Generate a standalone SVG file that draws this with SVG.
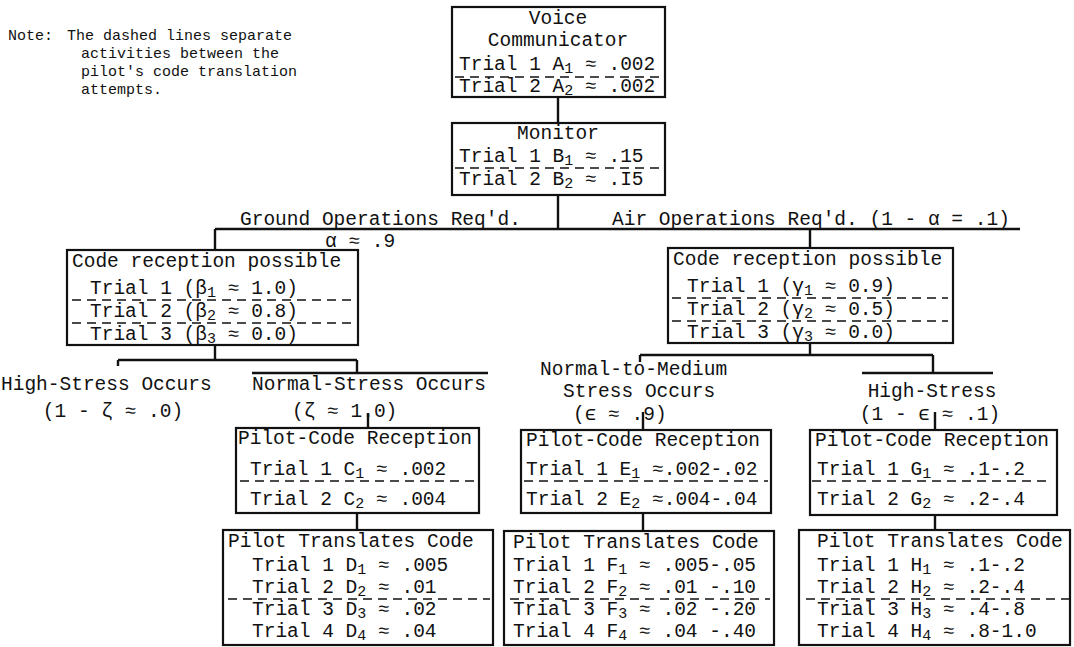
<svg xmlns="http://www.w3.org/2000/svg" width="1074" height="647" viewBox="0 0 1074 647">
<style>
text{font-family:"Liberation Mono","DejaVu Sans Mono",monospace;font-size:19.5px;fill:#111}
.note{font-size:15px}
.s{font-size:15px;baseline-shift:-3px}
.box{fill:none;stroke:#111;stroke-width:2.2}
.ln{fill:none;stroke:#111;stroke-width:2.4}
.d{fill:none;stroke:#111;stroke-width:1.4;stroke-dasharray:9 6}
.m{text-anchor:middle}
</style>
<rect width="1074" height="647" fill="#fff"/>
<g id="note">
<text class="note" x="8" y="40">Note:</text>
<text class="note" x="67" y="40">The dashed lines separate</text>
<text class="note" x="81" y="58">activities between the</text>
<text class="note" x="81" y="76">pilot's code translation</text>
<text class="note" x="81" y="94">attempts.</text>
</g>
<g id="connectors">
<path class="ln" d="M558 97V123M558 195V229M215 229H1020M215 229V250M810 229V248"/>
<path class="ln" d="M215 345V360M118 360H357M118 360V366M357 360V373M252 373H488M368 413V428M357 513V530"/>
<path class="ln" d="M810 343V355M640 355H933M640 355V362M933 355V373M862 373H993M643 412V430M935 412V430M643 513V531M935 515V530"/>
</g>
<g id="voice">
<rect class="box" x="452" y="7" width="213" height="90"/>
<text class="m" x="558" y="24">Voice</text>
<text class="m" x="558" y="46">Communicator</text>
<text x="459" y="70">Trial 1 A<tspan class="s">1</tspan> ≈ .002</text>
<line class="d" x1="455" y1="77" x2="662" y2="77"/>
<text x="459" y="92">Trial 2 A<tspan class="s">2</tspan> ≈ .002</text>
</g>
<g id="monitor">
<rect class="box" x="452" y="123" width="213" height="72"/>
<text class="m" x="558" y="139">Monitor</text>
<text x="459" y="162">Trial 1 B<tspan class="s">1</tspan> ≈ .15</text>
<line class="d" x1="455" y1="168" x2="662" y2="168"/>
<text x="459" y="185">Trial 2 B<tspan class="s">2</tspan> ≈ .I5</text>
</g>
<g id="ground">
<text x="240" y="225">Ground Operations Req'd.</text>
<text x="325" y="247">α ≈ .9</text>
</g>
<g id="air">
<text x="612" y="225">Air Operations Req'd. (1 - α = .1)</text>
</g>
<g id="code-left">
<rect class="box" x="67" y="250" width="291" height="95"/>
<text x="72" y="267">Code reception possible</text>
<text x="90" y="294">Trial 1 (β<tspan class="s">1</tspan> ≈ 1.0)</text>
<line class="d" x1="72" y1="300" x2="352" y2="300"/>
<text x="90" y="317">Trial 2 (β<tspan class="s">2</tspan> ≈ 0.8)</text>
<line class="d" x1="72" y1="323" x2="352" y2="323"/>
<text x="90" y="340">Trial 3 (β<tspan class="s">3</tspan> ≈ 0.0)</text>
</g>
<g id="code-right">
<rect class="box" x="668" y="248" width="285" height="95"/>
<text x="673" y="265">Code reception possible</text>
<text x="687" y="292">Trial 1 (γ<tspan class="s">1</tspan> ≈ 0.9)</text>
<line class="d" x1="672" y1="298" x2="948" y2="298"/>
<text x="687" y="315">Trial 2 (γ<tspan class="s">2</tspan> ≈ 0.5)</text>
<line class="d" x1="672" y1="321" x2="948" y2="321"/>
<text x="687" y="338">Trial 3 (γ<tspan class="s">3</tspan> ≈ 0.0)</text>
</g>
<g id="high-stress-left">
<text x="1" y="390">High-Stress Occurs</text>
<text class="m" x="113" y="417">(1 - ζ ≈ .0)</text>
</g>
<g id="normal-stress">
<text x="252" y="390">Normal-Stress Occurs</text>
<text x="292" y="417">(ζ ≈ 1.0)</text>
</g>
<g id="normal-medium">
<text x="540" y="375">Normal-to-Medium</text>
<text x="563" y="397">Stress Occurs</text>
<text x="573" y="420">(ϵ ≈ .9)</text>
</g>
<g id="high-stress-right">
<text class="m" x="932" y="397">High-Stress</text>
<text class="m" x="930" y="420">(1 - ϵ ≈ .1)</text>
</g>
<g id="pcr-left">
<rect class="box" x="236" y="428" width="243" height="85"/>
<text x="238" y="444">Pilot-Code Reception</text>
<text x="250" y="475">Trial 1 C<tspan class="s">1</tspan> ≈ .002</text>
<line class="d" x1="240" y1="481" x2="475" y2="481"/>
<text x="250" y="505">Trial 2 C<tspan class="s">2</tspan> ≈ .004</text>
</g>
<g id="pcr-mid">
<rect class="box" x="521" y="430" width="250" height="83"/>
<text x="526" y="446">Pilot-Code Reception</text>
<text x="526" y="475">Trial 1 E<tspan class="s">1</tspan> ≈.002-.02</text>
<line class="d" x1="524" y1="481" x2="768" y2="481"/>
<text x="526" y="505">Trial 2 E<tspan class="s">2</tspan> ≈.004-.04</text>
</g>
<g id="pcr-right">
<rect class="box" x="810" y="430" width="247" height="85"/>
<text x="815" y="446">Pilot-Code Reception</text>
<text x="817" y="475">Trial 1 G<tspan class="s">1</tspan> ≈ .1-.2</text>
<line class="d" x1="812" y1="481" x2="1050" y2="481"/>
<text x="817" y="505">Trial 2 G<tspan class="s">2</tspan> ≈ .2-.4</text>
</g>
<g id="ptc-left">
<rect class="box" x="223" y="530" width="270" height="115"/>
<text x="228" y="547">Pilot Translates Code</text>
<text x="252" y="571">Trial 1 D<tspan class="s">1</tspan> ≈ .005</text>
<text x="252" y="593">Trial 2 D<tspan class="s">2</tspan> ≈ .01</text>
<line class="d" x1="228" y1="599" x2="490" y2="599"/>
<text x="252" y="615">Trial 3 D<tspan class="s">3</tspan> ≈ .02</text>
<text x="252" y="637">Trial 4 D<tspan class="s">4</tspan> ≈ .04</text>
</g>
<g id="ptc-mid">
<rect class="box" x="504" y="531" width="270" height="114"/>
<text x="513" y="548">Pilot Translates Code</text>
<text x="513" y="571">Trial 1 F<tspan class="s">1</tspan> ≈ .005-.05</text>
<text x="513" y="593">Trial 2 F<tspan class="s">2</tspan> ≈ .01 -.10</text>
<line class="d" x1="510" y1="599" x2="770" y2="599"/>
<text x="513" y="615">Trial 3 F<tspan class="s">3</tspan> ≈ .02 -.20</text>
<text x="513" y="637">Trial 4 F<tspan class="s">4</tspan> ≈ .04 -.40</text>
</g>
<g id="ptc-right">
<rect class="box" x="799" y="530" width="271" height="115"/>
<text x="817" y="547">Pilot Translates Code</text>
<text x="817" y="571">Trial 1 H<tspan class="s">1</tspan> ≈ .1-.2</text>
<text x="817" y="593">Trial 2 H<tspan class="s">2</tspan> ≈ .2-.4</text>
<line class="d" x1="806" y1="599" x2="1070" y2="599"/>
<text x="817" y="615">Trial 3 H<tspan class="s">3</tspan> ≈ .4-.8</text>
<text x="817" y="637">Trial 4 H<tspan class="s">4</tspan> ≈ .8-1.0</text>
</g>
</svg>
